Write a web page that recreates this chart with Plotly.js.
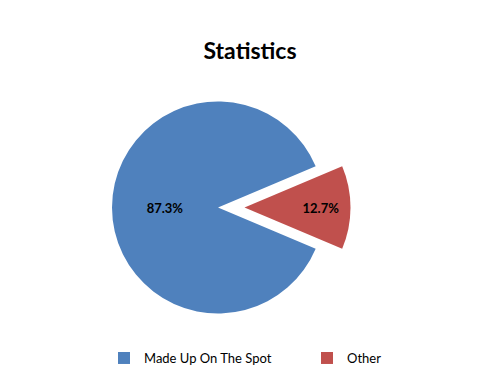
<!DOCTYPE html>
<html>
<head>
<meta charset="utf-8">
<script src="https://cdn.plot.ly/plotly-3.0.1.min.js"></script>
<style>html,body{margin:0;padding:0;background:#fff}#chart{width:500px;height:390px}</style>
</head>
<body>
<div id="chart"></div>
<script>
const categories = ["Made Up On The Spot", "Other"];
const values = [87.3, 12.7];
const colors = ["#4F81BD", "#C0504D"];
const chartTitle = "Statistics";

const total = values.reduce((a, b) => a + b, 0);

const trace = {
  type: "pie",
  labels: categories,
  values: values,
  sort: false,
  direction: "counterclockwise",
  rotation: 90 + (values[1] / total) * 180,
  pull: [0, 0.25],
  marker: { colors: colors, line: { color: "#ffffff", width: 0 } },
  texttemplate: "%{value:.1f}%",
  textposition: "inside",
  insidetextorientation: "horizontal",
  textfont: { family: "Lato, 'Open Sans', sans-serif", size: 13, color: "#000000", weight: "bold" },
  hoverinfo: "label+percent",
  domain: { x: [0, 0.872], y: [0, 1] }
};

const layout = {
  width: 500,
  height: 390,
  margin: { l: 0, r: 0, t: 75, b: 50 },
  paper_bgcolor: "#ffffff",
  title: {
    text: "<b>" + chartTitle + "</b>",
    x: 0.5, xanchor: "center",
    y: 0.87, yanchor: "middle",
    font: { family: "Lato, 'Open Sans', sans-serif", size: 23, color: "#000000" }
  },
  showlegend: true,
  legend: {
    orientation: "h",
    xref: "container", yref: "container",
    x: 0.208, xanchor: "left",
    y: 0.082, yanchor: "middle",
    entrywidth: 158, entrywidthmode: "pixels",
    traceorder: "normal",
    font: { family: "Lato, 'Open Sans', sans-serif", size: 13, color: "#000000" },
    itemwidth: 30
  }
};

Plotly.newPlot("chart", [trace], layout, { displayModeBar: false, staticPlot: true });
</script>
</body>
</html>
